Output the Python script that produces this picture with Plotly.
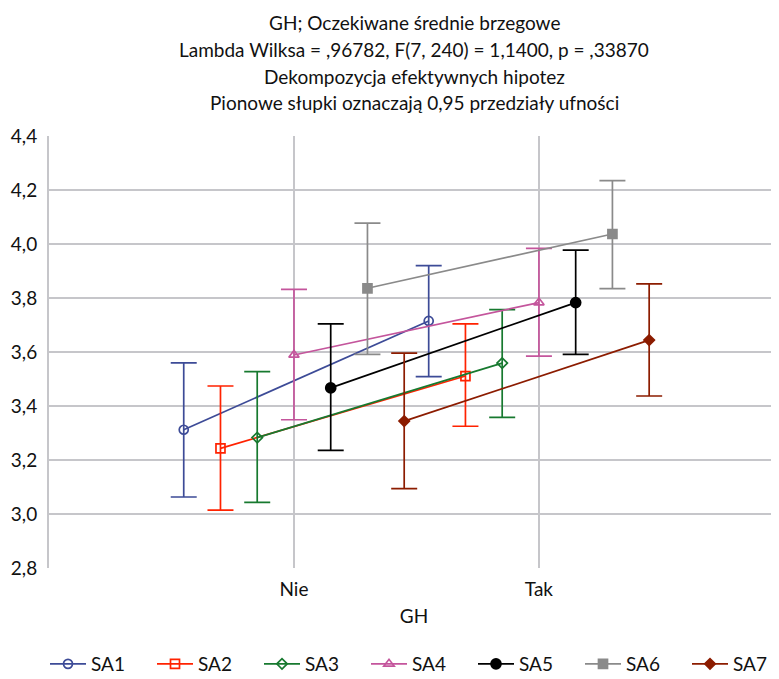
import plotly.graph_objects as go

categories = ["Nie", "Tak"]
series = ["SA1", "SA2", "SA3", "SA4", "SA5", "SA6", "SA7"]

means = {
    "SA1": [3.312, 3.715],
    "SA2": [3.243, 3.511],
    "SA3": [3.283, 3.559],
    "SA4": [3.589, 3.783],
    "SA5": [3.467, 3.783],
    "SA6": [3.836, 4.037],
    "SA7": [3.344, 3.644],
}
upper = {
    "SA1": [3.560, 3.920],
    "SA2": [3.474, 3.704],
    "SA3": [3.527, 3.757],
    "SA4": [3.832, 3.984],
    "SA5": [3.704, 3.977],
    "SA6": [4.077, 4.235],
    "SA7": [3.596, 3.852],
}
lower = {
    "SA1": [3.063, 3.509],
    "SA2": [3.014, 3.325],
    "SA3": [3.043, 3.358],
    "SA4": [3.349, 3.585],
    "SA5": [3.236, 3.591],
    "SA6": [3.591, 3.835],
    "SA7": [3.094, 3.437],
}

y_ticks = [2.8, 3.0, 3.2, 3.4, 3.6, 3.8, 4.0, 4.2, 4.4]

title_lines = [
    "GH; Oczekiwane średnie brzegowe",
    "Lambda Wilksa = ,96782, F(7, 240) = 1,1400, p = ,33870",
    "Dekompozycja efektywnych hipotez",
    "Pionowe słupki oznaczają 0,95 przedziały ufności",
]

# styles
colors = ["#3d4b97", "#ff2200", "#17792f", "#c4559c", "#000000", "#8a8a8a", "#8c1c00"]
symbols = ["circle-open", "square-open", "diamond-open", "triangle-up-open",
           "circle", "square", "diamond"]
sizes = [9, 9, 8, 9, 10, 9, 8]
offsets = [-0.45, -0.30, -0.15, 0.0, 0.15, 0.30, 0.45]

# the page body has an 8px margin; the figure is sized/positioned to compensate
PAGE_OFF = 8
title_y_px = [23 - PAGE_OFF, 50 - PAGE_OFF, 76 - PAGE_OFF, 102 - PAGE_OFF]

FONT = "Lato"
FS = 19
W, H = 779 - PAGE_OFF, 679 - PAGE_OFF
ML, MR, MT = 49 - PAGE_OFF, 0, 136 - PAGE_OFF
PH = 432
MB = H - MT - PH
PW = W - ML - MR

fig = go.Figure()
for i, s in enumerate(series):
    xs = [j + offsets[i] for j in range(len(categories))]
    m = means[s]
    fig.add_trace(go.Scatter(
        x=xs, y=m, name=s, mode="lines+markers",
        line=dict(color=colors[i], width=1.7),
        marker=dict(symbol=symbols[i], size=sizes[i], color=colors[i],
                    line=dict(color=colors[i], width=1.7)),
        error_y=dict(type="data", symmetric=False,
                     array=[u - v for u, v in zip(upper[s], m)],
                     arrayminus=[v - l for v, l in zip(m, lower[s])],
                     color=colors[i], thickness=1.7, width=13),
    ))

for t, ypx in zip(title_lines, title_y_px):
    fig.add_annotation(text=t, xref="paper", yref="paper", x=0.5, xanchor="center",
                       y=(H - MB - ypx) / PH, yanchor="middle", showarrow=False,
                       font=dict(family=FONT, size=FS, color="#111111"))

legend_left_px = 45 - PAGE_OFF  # figure px where legend box starts
legend_mid_px = 664 - PAGE_OFF

fig.update_layout(
    width=W, height=H,
    margin=dict(l=ML, r=MR, t=MT, b=MB, autoexpand=False),
    paper_bgcolor="white", plot_bgcolor="white",
    separators=", ",
    font=dict(family=FONT, size=FS, color="#111111"),
    showlegend=True,
    legend=dict(orientation="h", xref="paper", x=(legend_left_px - ML) / PW, xanchor="left",
                yref="paper", y=(H - MB - legend_mid_px) / PH, yanchor="middle",
                entrywidth=56, entrywidthmode="pixels", itemwidth=36,
                font=dict(family=FONT, size=FS)),
    xaxis=dict(
        range=[-1, 1.98], tickvals=[0, 1], ticktext=categories,
        showgrid=True, gridcolor="#c6c6ca", gridwidth=2,
        zeroline=False, showline=False, ticks="", ticklabelstandoff=8,
        title=dict(text="GH", font=dict(family=FONT, size=FS), standoff=10),
        tickfont=dict(family=FONT, size=FS),
    ),
    yaxis=dict(
        range=[2.8, 4.4], tickvals=y_ticks, tickformat=".1f",
        showgrid=True, gridcolor="#c6c6ca", gridwidth=2,
        zeroline=False, showline=True, linecolor="#c6c6ca", linewidth=2,
        ticks="", ticklabelstandoff=6, tickfont=dict(family=FONT, size=FS),
    ),
)

fig.write_html("out.html")
